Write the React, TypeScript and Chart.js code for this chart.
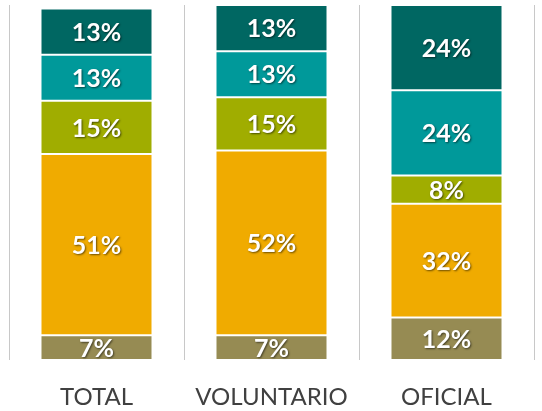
import React, { useEffect, useRef } from "react";
import { Chart, registerables } from "chart.js";

Chart.register(...registerables);

const categories = ["TOTAL", "VOLUNTARIO", "OFICIAL"];
const seriesBrown = [7, 7, 12];
const seriesOrange = [51, 52, 32];
const seriesGreen = [15, 15, 8];
const seriesTeal = [13, 13, 24];
const seriesDarkTeal = [13, 13, 24];

const colors = ["#968b53", "#f0ab00", "#a0ad00", "#00999a", "#006762"];

const labelPlugin = {
  id: "segLabels",
  afterDatasetsDraw(chart: any) {
    const ctx = chart.ctx;
    ctx.save();
    ctx.font = "bold 25px Lato";
    ctx.textAlign = "center";
    ctx.textBaseline = "middle";
    ctx.fillStyle = "#ffffff";
    ctx.shadowColor = "rgba(0,0,0,0.55)";
    ctx.shadowOffsetX = 1;
    ctx.shadowOffsetY = 1;
    ctx.shadowBlur = 2;
    chart.data.datasets.forEach((ds: any, di: number) => {
      const meta = chart.getDatasetMeta(di);
      meta.data.forEach((el: any, i: number) => {
        const v = ds.data[i];
        const { x, y, base } = el.getProps(["x", "y", "base"], true);
        ctx.fillText(v + "%", x, (y + base) / 2 + 1);
      });
    });
    ctx.restore();
  },
};

export default function App() {
  const ref = useRef<HTMLCanvasElement>(null);
  useEffect(() => {
    const all = [seriesBrown, seriesOrange, seriesGreen, seriesTeal, seriesDarkTeal];
    const chart = new Chart(ref.current!, {
      type: "bar",
      data: {
        labels: categories,
        datasets: all.map((d, k) => ({
          data: d,
          backgroundColor: colors[k],
          borderColor: "rgba(255,255,255,0.45)",
          borderWidth: 1,
          borderSkipped: false,
          barPercentage: 0.64,
          categoryPercentage: 1,
        })),
      },
      options: {
        animation: false,
        responsive: false,
        maintainAspectRatio: false,
        layout: { padding: { left: 9, right: 8, top: 5, bottom: 4 } },
        plugins: { legend: { display: false }, tooltip: { enabled: false } },
        scales: {
          x: {
            stacked: true,
            border: { display: false },
            afterFit: (s: any) => {
              s.height = 47;
            },
            grid: {
              offset: true,
              drawTicks: false,
              color: (c: any) => (c.index === 3 ? "rgba(0,0,0,0)" : "#c8c8c8"),
              lineWidth: 1,
            },
            ticks: {
              padding: 23,
              maxRotation: 0,
              autoSkip: false,
              color: "#404040",
              font: { family: "Lato", size: 24 },
            },
          },
          y: {
            stacked: true,
            display: false,
            min: 0,
            max: 100,
          },
        },
      },
      plugins: [labelPlugin],
    });
    return () => chart.destroy();
  }, []);
  return (
    <div style={{ position: "absolute", left: 0, top: 0, width: 542, height: 411, background: "#fff" }}>
      <canvas ref={ref} width={542} height={411} style={{ display: "block" }} />
    </div>
  );
}
